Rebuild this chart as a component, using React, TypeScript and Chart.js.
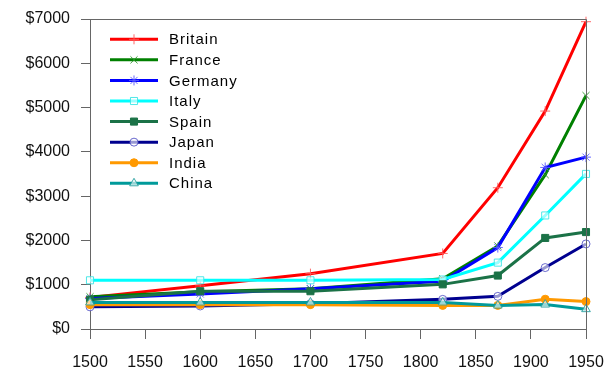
import React, { useEffect, useRef } from "react";
import { Chart, registerables } from "chart.js";
import { drawPoint } from "chart.js/helpers";

Chart.register(...registerables);

const years = [1500, 1600, 1700, 1820, 1870, 1913, 1950];
const countries = ["Britain", "France", "Germany", "Italy", "Spain", "Japan", "India", "China"];
const britain = [714, 974, 1250, 1706, 3190, 4921, 6939];
const france = [727, 841, 910, 1135, 1876, 3485, 5271];
const germany = [688, 791, 910, 1077, 1839, 3648, 3881];
const italy = [1100, 1100, 1100, 1117, 1499, 2564, 3502];
const spain = [661, 853, 853, 1008, 1207, 2056, 2189];
const japan = [500, 520, 570, 669, 737, 1387, 1921];
const india = [550, 550, 550, 533, 533, 673, 619];
const china = [600, 600, 600, 600, 530, 552, 448];
const yTicks = [0, 1000, 2000, 3000, 4000, 5000, 6000, 7000];

const seriesValues = [britain, france, germany, italy, spain, japan, india, china];
const colors = ["#ff0000", "#008000", "#0000ff", "#00ffff", "#1b7247", "#00008f", "#ff9900", "#009a9a"];
const markerColors = [
  "rgba(255,90,90,0.9)",
  "rgba(40,150,40,0.9)",
  "rgba(90,90,255,0.9)",
  "rgba(60,230,230,0.9)",
  "#1b7247",
  "rgba(90,90,200,0.9)",
  "#ff9900",
  "rgba(40,160,160,0.9)",
];
const pointStyles = ["cross", "crossRot", "star", "rect", "rect", "circle", "circle", "triangle"];
const pointFilled = [false, false, false, false, true, false, true, false];
const pointRadii = [5, 5, 5, 5, 5, 4, 4, 5];

const FONT = "'Liberation Sans', Arial, sans-serif";

const framePlugin = {
  id: "frame",
  beforeInit(chart: any) {
    try {
      chart.ctx.letterSpacing = "0.7px";
    } catch (e) {}
  },
  afterDraw(chart: any) {
    const { ctx, chartArea } = chart;
    ctx.save();
    ctx.strokeStyle = "#666";
    ctx.lineWidth = 1;
    ctx.beginPath();
    const l = Math.round(chartArea.left) + 0.5;
    const r = Math.round(chartArea.right) + 0.5;
    const t = Math.round(chartArea.top) + 0.5;
    const b = Math.round(chartArea.bottom) + 0.5;
    ctx.moveTo(l, t);
    ctx.lineTo(r, t);
    ctx.lineTo(r, b);
    ctx.stroke();
    ctx.restore();

    // legend
    ctx.save();
    ctx.letterSpacing = "1px";
    const x0 = chartArea.left + 20;
    const lineLen = 48;
    const y0 = chartArea.top + 20.3;
    const step = 20.57;
    ctx.font = `15px ${FONT}`;
    ctx.textBaseline = "middle";
    ctx.textAlign = "left";
    countries.forEach((name, i) => {
      const y = y0 + i * step;
      ctx.strokeStyle = colors[i];
      ctx.lineWidth = 3;
      ctx.beginPath();
      ctx.moveTo(x0, y);
      ctx.lineTo(x0 + lineLen, y);
      ctx.stroke();
      ctx.strokeStyle = markerColors[i];
      ctx.fillStyle = pointFilled[i] ? markerColors[i] : "rgba(255,255,255,0.6)";
      ctx.lineWidth = 1;
      drawPoint(ctx, { pointStyle: pointStyles[i], rotation: 0, radius: pointRadii[i], borderWidth: 1 }, x0 + lineLen / 2, y);
      ctx.fillStyle = "#000";
      ctx.fillText(name, x0 + lineLen + 11, y + 1);
    });
    ctx.restore();
  },
};

export default function App() {
  const ref = useRef<HTMLCanvasElement | null>(null);
  useEffect(() => {
    document.body.style.margin = "0";
    const canvas = ref.current!;
    const datasets = countries.map((name, i) => ({
      label: name,
      data: years.map((yr, k) => ({ x: yr, y: seriesValues[i][k] })),
      borderColor: colors[i],
      backgroundColor: colors[i],
      borderWidth: 3,
      pointStyle: pointStyles[i],
      pointRadius: pointRadii[i],
      pointBorderWidth: 1,
      pointBorderColor: markerColors[i],
      pointBackgroundColor: pointFilled[i] ? markerColors[i] : "rgba(255,255,255,0.6)",
      tension: 0,
      fill: false,
      order: countries.length - i,
      clip: false as any,
    }));
    const chart = new Chart(canvas, {
      type: "line",
      data: { datasets },
      options: {
        responsive: false,
        animation: false,
        devicePixelRatio: 1,
        layout: { padding: { top: 19, right: 24, left: 0, bottom: 0 } },
        plugins: { legend: { display: false }, tooltip: { enabled: false } },
        scales: {
          x: {
            type: "linear",
            min: 1500,
            max: 1950,
            afterFit: (s: any) => {
              s.height = 52;
              s.paddingLeft = 0;
              s.paddingRight = 0;
            },
            ticks: {
              stepSize: 50,
              color: "#111",
              padding: 14,
              font: { family: FONT, size: 16 },
              maxRotation: 0,
              callback: (v: any) => String(v),
            },
            grid: {
              drawOnChartArea: false,
              drawTicks: true,
              tickLength: 10,
              color: "#666",
            },
            border: { display: true, color: "#666", width: 1 },
          },
          y: {
            type: "linear",
            min: yTicks[0],
            max: yTicks[yTicks.length - 1],
            afterFit: (s: any) => {
              s.width = 90;
              s.paddingTop = 0;
              s.paddingBottom = 0;
            },
            afterBuildTicks: (s: any) => {
              s.ticks = yTicks.map((v) => ({ value: v }));
            },
            ticks: {
              color: "#111",
              padding: 11,
              font: { family: FONT, size: 16 },
              callback: (v: any) => "$" + v,
            },
            grid: {
              drawOnChartArea: false,
              drawTicks: true,
              tickLength: 9,
              color: "#666",
            },
            border: { display: true, color: "#666", width: 1 },
          },
        },
      },
      plugins: [framePlugin],
    });
    return () => chart.destroy();
  }, []);
  return (
    <div style={{ position: "absolute", left: 0, top: 0, width: 610, height: 381, background: "#fff" }}>
      <canvas ref={ref} width={610} height={381} />
    </div>
  );
}
